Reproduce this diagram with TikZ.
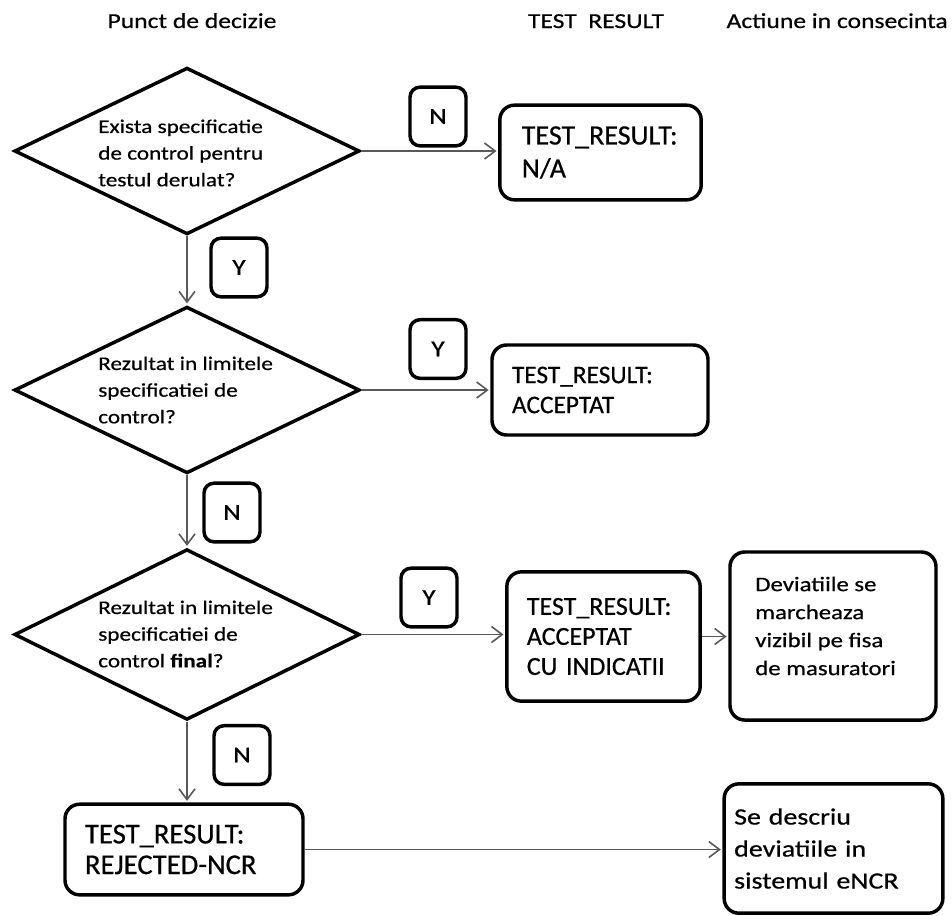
\documentclass[tikz,border=0pt]{standalone}
\usepackage{fontspec}
\setmainfont{Carlito}[FakeBold=0.6]
\newfontfamily\widefont{Carlito}[FakeStretch=1.2,FakeBold=0.6]
\usetikzlibrary{shapes.geometric,arrows.meta}

\begin{document}
\begin{tikzpicture}[x=0.75pt,y=-0.75pt,
	decision/.style={draw,diamond,line width=2.6pt,inner sep=0pt,minimum width=259pt,minimum height=125pt},
	qtext/.style={anchor=west,align=left,inner sep=0pt,font=\widefont\fontsize{14.5}{20}\selectfont},
	result/.style={draw,rounded corners=11pt,line width=2.6pt,align=left,inner ysep=0pt},
	answer/.style={draw,rounded corners=7.5pt,line width=2.6pt,minimum width=42pt,minimum height=44pt,inner sep=0pt,font=\widefont\fontsize{17}{19}\selectfont},
	header/.style={anchor=base,inner sep=0pt,font=\widefont\fontsize{16}{19}\selectfont},
	flow/.style={draw=black!65,line width=1.2pt,shorten >=1.2pt,-{Straight Barb[length=8pt,width=12pt]}}]
			\useasboundingbox (0,0) rectangle (952,915);

			% column titles
			\node[header] (h1)at(192,28) {Punct de decizie};
			\node[header] (h2)at(596,28) {TEST\ \ RESULT};
			\node[header,anchor=base east] (h3)at(948,28) {Actiune in consecinta};

			% decision points
			\node[decision] (q1)at(187,151) {};
			\node[qtext] (t1)at(98,153) {Exista specificatie\\de control pentru\\testul derulat?};
			\node[decision] (q2)at(187,390) {};
			\node[qtext] (t2)at(98,390) {Rezultat  in limitele\\specificatiei de\\control?};
			\node[decision,minimum height=128pt] (q3)at(187,634.5) {};
			\node[qtext] (t3)at(98,634) {Rezultat  in limitele\\specificatiei de\\control \textbf{final}?};

			% test results
			\node[result,text width=118pt,inner xsep=16.5pt,minimum height=71pt,font=\fontsize{21}{24.75}\selectfont] (a1)at(600.5,152.5) {TEST\_RESULT:\\N/A};
			\node[result,text width=132pt,inner xsep=15pt,minimum height=67.5pt,font=\fontsize{19}{22.5}\selectfont] (a2)at(600,390) {TEST\_RESULT:\\ACCEPTAT};
			\node[result,text width=115pt,inner xsep=15pt,minimum height=97pt,font=\fontsize{19.5}{22.5}\selectfont] (a3)at(603.5,636.5) {TEST\_RESULT:\\ACCEPTAT\\CU INDICATII};
			\node[result,text width=148.5pt,inner xsep=15pt,minimum height=68pt,font=\fontsize{21.5}{23}\selectfont] (r)at(184,849.5) {TEST\_RESULT:\\REJECTED-NCR};

			% actions
			\node[result,minimum width=154.5pt,minimum height=126pt] (d3)at(833,636) {};
			\node[qtext,font=\widefont\fontsize{15.5}{21}\selectfont] (d3txt)at(755,626) {Deviatiile se\\marcheaza\\vizibil pe fisa\\de masuratori};
			\node[result,text width=149pt,inner xsep=7.5pt,minimum height=97pt,font=\widefont\fontsize{17.5}{24}\selectfont] (e)at(833.5,848.5) {Se descriu\\deviatiile in\\sistemul eNCR};

			% answers
			\node[answer] (n1)at(438,116.5) {N};
			\node[answer] (y1)at(239,267.5) {Y};
			\node[answer] (y2)at(438,349) {Y};
			\node[answer] (n2)at(232,512.5) {N};
			\node[answer] (y3)at(429,597.5) {Y};
			\node[answer] (n3)at(242,755) {N};

			\draw[flow] (q1.east) -- (q1.east -| a1.west);
			\draw[flow] (q1.south) -- (q2.north);
			\draw[flow] (q2.east) -- (q2.east -| a2.west);
			\draw[flow] (q2.south) -- (q3.north);
			\draw[flow] (q3.east) -- (q3.east -| a3.west);
			\draw[flow] (q3.south) -- (q3.south |- r.north);
			\draw[flow] (a3.east) -- (a3.east -| d3.west);
			\draw[flow] (r.east) -- (r.east -| e.west);
		\end{tikzpicture}
\end{document}
